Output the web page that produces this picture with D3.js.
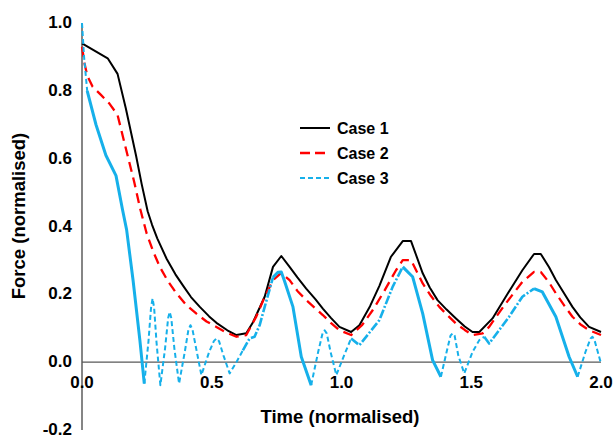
<!DOCTYPE html>
<html>
<head>
<meta charset="utf-8">
<script src="https://cdn.jsdelivr.net/npm/d3@7"></script>
<style>
  html, body { margin: 0; padding: 0; background: #fff; }
  svg text { font-family: "Liberation Sans", Arial, sans-serif; font-weight: bold; fill: #000; }
</style>
</head>
<body>
<svg id="chart" width="616" height="438"></svg>
<script>
// ---- Data ----
const seriesNames = ["Case 1", "Case 2", "Case 3"];

const t1 = [0, 0.099, 0.137, 0.169, 0.208, 0.23, 0.253, 0.27, 0.29, 0.326, 0.36, 0.39, 0.42, 0.454, 0.49, 0.518, 0.56, 0.595, 0.633, 0.659, 0.704, 0.736, 0.768, 0.8, 0.83, 0.864, 0.9, 0.928, 0.96, 0.992, 1.037, 1.069, 1.11, 1.146, 1.19, 1.236, 1.268, 1.313, 1.34, 1.37, 1.405, 1.441, 1.475, 1.505, 1.531, 1.582, 1.633, 1.665, 1.697, 1.742, 1.768, 1.8, 1.826, 1.86, 1.89, 1.92, 1.954, 2.0];
const f1 = [0.94, 0.896, 0.85, 0.748, 0.61, 0.525, 0.445, 0.405, 0.365, 0.305, 0.259, 0.225, 0.192, 0.163, 0.135, 0.116, 0.094, 0.080, 0.085, 0.118, 0.193, 0.281, 0.313, 0.281, 0.25, 0.217, 0.185, 0.158, 0.13, 0.104, 0.089, 0.109, 0.165, 0.225, 0.31, 0.357, 0.357, 0.262, 0.22, 0.183, 0.155, 0.129, 0.105, 0.089, 0.089, 0.129, 0.193, 0.232, 0.271, 0.319, 0.319, 0.28, 0.242, 0.2, 0.163, 0.132, 0.104, 0.089];

const t2 = [0, 0.01, 0.02, 0.041, 0.073, 0.105, 0.137, 0.169, 0.201, 0.225, 0.249, 0.275, 0.3, 0.33, 0.364, 0.4, 0.441, 0.48, 0.518, 0.555, 0.595, 0.633, 0.672, 0.70, 0.736, 0.768, 0.8, 0.83, 0.864, 0.9, 0.928, 0.96, 0.992, 1.037, 1.08, 1.12, 1.165, 1.21, 1.236, 1.268, 1.313, 1.345, 1.377, 1.41, 1.441, 1.475, 1.505, 1.544, 1.569, 1.6, 1.633, 1.665, 1.697, 1.742, 1.768, 1.8, 1.826, 1.86, 1.89, 1.92, 1.954, 2.0];
const f2 = [0.93, 0.88, 0.845, 0.812, 0.788, 0.763, 0.729, 0.63, 0.532, 0.45, 0.38, 0.325, 0.281, 0.24, 0.203, 0.17, 0.143, 0.12, 0.104, 0.088, 0.075, 0.08, 0.135, 0.185, 0.242, 0.263, 0.242, 0.21, 0.183, 0.158, 0.139, 0.115, 0.094, 0.08, 0.11, 0.153, 0.21, 0.271, 0.301, 0.301, 0.232, 0.195, 0.163, 0.137, 0.114, 0.095, 0.08, 0.085, 0.104, 0.138, 0.173, 0.205, 0.237, 0.266, 0.266, 0.235, 0.203, 0.165, 0.134, 0.112, 0.094, 0.08];

const t3 = [0, 0.008, 0.02, 0.054, 0.092, 0.131, 0.156, 0.172, 0.197, 0.223, 0.24, 0.256, 0.266, 0.272, 0.278, 0.287, 0.302, 0.32, 0.332, 0.338, 0.344, 0.356, 0.374, 0.396, 0.41, 0.418, 0.426, 0.44, 0.46, 0.49, 0.508, 0.518, 0.528, 0.545, 0.569, 0.595, 0.62, 0.646, 0.665, 0.685, 0.704, 0.736, 0.755, 0.768, 0.78, 0.813, 0.845, 0.883, 0.91, 0.927, 0.935, 0.943, 0.958, 0.98, 1.01, 1.037, 1.069, 1.146, 1.197, 1.236, 1.274, 1.313, 1.351, 1.383, 1.405, 1.42, 1.428, 1.436, 1.45, 1.473, 1.505, 1.531, 1.55, 1.569, 1.646, 1.697, 1.742, 1.774, 1.826, 1.877, 1.91, 1.94, 1.96, 1.967, 1.975, 2.0];
const f3 = [1.0, 0.9, 0.8, 0.70, 0.61, 0.55, 0.45, 0.39, 0.24, 0.065, -0.063, 0.06, 0.16, 0.188, 0.16, 0.06, -0.068, 0.04, 0.13, 0.148, 0.13, 0.04, -0.063, 0.03, 0.095, 0.109, 0.095, 0.04, -0.038, 0.03, 0.062, 0.07, 0.062, 0.02, -0.033, 0.0, 0.035, 0.07, 0.075, 0.11, 0.163, 0.25, 0.265, 0.266, 0.24, 0.163, 0.016, -0.068, 0.03, 0.085, 0.094, 0.085, 0.03, -0.038, 0.02, 0.07, 0.05, 0.124, 0.222, 0.281, 0.252, 0.143, 0.006, -0.043, 0.03, 0.078, 0.085, 0.078, 0.02, -0.033, 0.03, 0.065, 0.075, 0.055, 0.134, 0.193, 0.217, 0.207, 0.134, 0.016, -0.043, 0.03, 0.07, 0.075, 0.065, -0.004];

const xTicks = [0.0, 0.5, 1.0, 1.5, 2.0];
const yTicks = [-0.2, 0.0, 0.2, 0.4, 0.6, 0.8, 1.0];

// Rendering style of Case 3 pieces (time ranges)
const case3Pieces = [
  [0, 0.02, "dash"], [0.02, 0.24, "solid"], [0.24, 0.62, "dash"], [0.62, 0.736, "dashdot"],
  [0.736, 0.883, "solid"], [0.883, 1.037, "dash"], [1.037, 1.236, "dashdot"], [1.236, 1.383, "solid"],
  [1.383, 1.55, "dash"], [1.55, 1.742, "dashdot"], [1.742, 1.91, "solid"], [1.91, 2.0, "dash"]
];

// ---- Chart ----
const svg = d3.select("#chart");
const x = d3.scaleLinear().domain([0, 2]).range([82, 601]);
const y = d3.scaleLinear().domain([-0.2, 1.0]).range([430, 23]);

const zip = (ts, fs) => ts.map((t, i) => ({ t, f: fs[i] }));
const d1 = zip(t1, f1), d2 = zip(t2, f2), d3s = zip(t3, f3);

// y axis line
svg.append("line").attr("x1", x(0)).attr("x2", x(0)).attr("y1", y(1.0)).attr("y2", y(-0.2))
  .attr("stroke", "#858585").attr("stroke-width", 2);
// x axis line at y=0
svg.append("line").attr("x1", x(0)).attr("x2", x(2)).attr("y1", y(0)).attr("y2", y(0))
  .attr("stroke", "#595959").attr("stroke-width", 1.3);

// y tick labels
svg.append("g").selectAll("text").data(yTicks).join("text")
  .attr("x", 72).attr("y", d => y(d)).attr("dy", "0.3em")
  .attr("text-anchor", "end").style("font-size", "17px")
  .text(d => d3.format(".1f")(d).replace("−", "-"));

// x tick labels
svg.append("g").selectAll("text").data(xTicks).join("text")
  .attr("x", d => x(d)).attr("y", 388)
  .attr("text-anchor", "middle").style("font-size", "17px")
  .text(d => d3.format(".1f")(d));

// axis titles
svg.append("text").attr("x", 340).attr("y", 423).attr("text-anchor", "middle")
  .style("font-size", "18.5px").text("Time (normalised)");
svg.append("text").attr("transform", "translate(25,216) rotate(-90)").attr("text-anchor", "middle")
  .style("font-size", "18.5px").text("Force (normalised)");

const lin = d3.line().x(d => x(d.t)).y(d => y(d.f));

// Case 1
svg.append("path").attr("d", lin(d1)).attr("fill", "none")
  .attr("stroke", "#000").attr("stroke-width", 2).attr("stroke-linejoin", "round");
// Case 2
svg.append("path").attr("d", lin(d2)).attr("fill", "none")
  .attr("stroke", "#ff0000").attr("stroke-width", 2.3).attr("stroke-dasharray", "10,6")
  .attr("stroke-linejoin", "round");
// Case 3
const blue = "#16b0ea";
case3Pieces.forEach(([a, b, style]) => {
  const pts = d3s.filter(d => d.t >= a - 1e-9 && d.t <= b + 1e-9);
  const p = svg.append("path").attr("d", lin(pts)).attr("fill", "none").attr("stroke", blue)
    .attr("stroke-linejoin", "round");
  if (style === "solid") p.attr("stroke-width", 3);
  else if (style === "dash") p.attr("stroke-width", 2).attr("stroke-dasharray", "5,3");
  else p.attr("stroke-width", 2.6).attr("stroke-dasharray", "9,2,2,2");
});

// Legend
const legendStyles = [
  { color: "#000", dash: null, w: 2 },
  { color: "#ff0000", dash: "10,5", w: 2.3 },
  { color: blue, dash: "5,3", w: 2 }
];
const lg = svg.append("g");
seriesNames.forEach((name, i) => {
  const yy = 128 + i * 25;
  const l = lg.append("line").attr("x1", 300).attr("x2", 330).attr("y1", yy).attr("y2", yy)
    .attr("stroke", legendStyles[i].color).attr("stroke-width", legendStyles[i].w);
  if (legendStyles[i].dash) l.attr("stroke-dasharray", legendStyles[i].dash);
  lg.append("text").attr("x", 337).attr("y", yy).attr("dy", "0.36em")
    .style("font-size", "16px").text(name);
});
</script>
</body>
</html>
